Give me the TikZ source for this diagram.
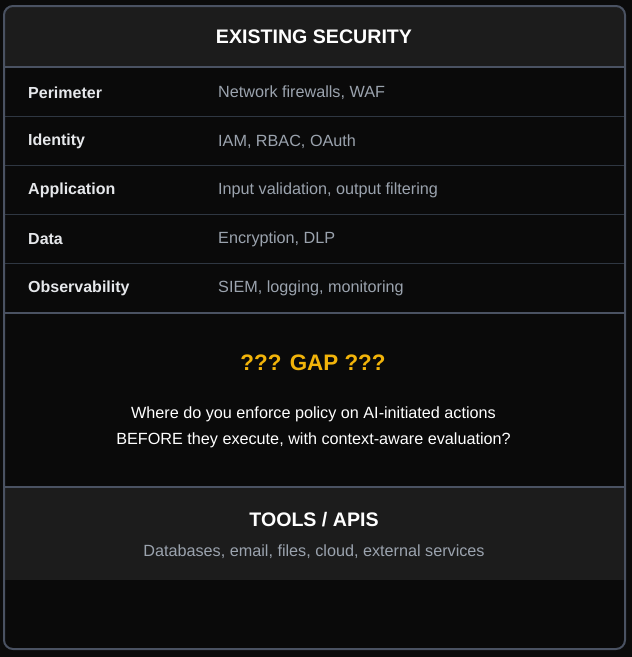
\documentclass[tikz,border=0pt]{standalone}
\usepackage{fontspec}
\setmainfont{Liberation Sans}
\definecolor{pagebg}{HTML}{0B0B0B}
\definecolor{innerbg}{HTML}{0A0A0A}
\definecolor{headbg}{HTML}{1C1C1C}
\definecolor{frame}{HTML}{4A5262}
\definecolor{sep}{HTML}{2F3742}
\definecolor{labeltxt}{HTML}{E6E8EB}
\definecolor{valtxt}{HTML}{9BA3AE}
\definecolor{gapc}{HTML}{F2B40A}
\tikzset{
  rowlabel/.style={anchor=west, text=labeltxt, font=\fontsize{16}{19}\selectfont\bfseries, inner sep=0},
  rowval/.style={anchor=west, text=valtxt, font=\fontsize{16.2}{19}\selectfont, inner sep=0},
  title/.style={text=white, font=\fontsize{19.6}{23}\selectfont\bfseries, inner sep=0},
  thinsep/.style={draw=sep, line width=1pt},
  thicksep/.style={draw=frame, line width=2pt},
}
\begin{document}
\begin{tikzpicture}[x=1pt,y=-1pt]
\useasboundingbox (0,0) rectangle (632,657);
\fill[pagebg] (0,0) rectangle (632,657);
% inner fill
\fill[innerbg, rounded corners=9pt] (4,6) rectangle (625,649);
% header and tools fills
\begin{scope}
\clip[rounded corners=9pt] (4,6) rectangle (625,649);
\fill[headbg] (4,6) rectangle (625,67);
\fill[headbg] (4,487) rectangle (625,580);
\end{scope}
% separators
\coordinate (hl) at (4,67); \coordinate (hr) at (625,67);
\draw[thicksep] (hl) -- (hr);
\foreach \y in {116,165,214,263}{
  \draw[thinsep] (4,\y) -- (625,\y);
}
\coordinate (gl) at (4,313); \coordinate (gr) at (625,313);
\draw[thicksep] (gl) -- (gr);
\coordinate (tl) at (4,487); \coordinate (tr) at (625,487);
\draw[thicksep] (tl) -- (tr);
% frame
\draw[draw=frame, line width=2pt, rounded corners=9pt] (4,6) rectangle (625,649);

\node[title] (head) at (314,36.5) {EXISTING SECURITY};

\node[rowlabel] (l1) at (28,92.5) {Perimeter};
\node[rowval] (v1) at (218,92.5) {Network firewalls, WAF};
\node[rowlabel] (l2) at (28,141.5) {Identity};
\node[rowval] (v2) at (218,141.5) {IAM, RBAC, OAuth};
\node[rowlabel] (l3) at (28,190.5) {Application};
\node[rowval] (v3) at (218,190.5) {Input validation, output filtering};
\node[rowlabel] (l4) at (28,239.5) {Data};
\node[rowval] (v4) at (218,239.5) {Encryption, DLP};
\node[rowlabel] (l5) at (28,288.5) {Observability};
\node[rowval] (v5) at (218,288.5) {SIEM, logging, monitoring};

\node[text=gapc, font=\fontsize{22.4}{26}\selectfont\bfseries, inner sep=0] (gap) at (313,362.5) {??? GAP ???};
\node[text=white, font=\fontsize{16.2}{19}\selectfont, inner sep=0] (q1) at (313.5,414.5) {Where do you enforce policy on AI-initiated actions};
\node[text=white, font=\fontsize{16.2}{19}\selectfont, inner sep=0] (q2) at (313.5,440.5) {BEFORE they execute, with context-aware evaluation?};

\node[title] (tools) at (314,519.5) {TOOLS / APIS};
\node[text=valtxt, font=\fontsize{16.2}{19}\selectfont, inner sep=0] (tdesc) at (314,551.5) {Databases, email, files, cloud, external services};
\end{tikzpicture}
\end{document}
